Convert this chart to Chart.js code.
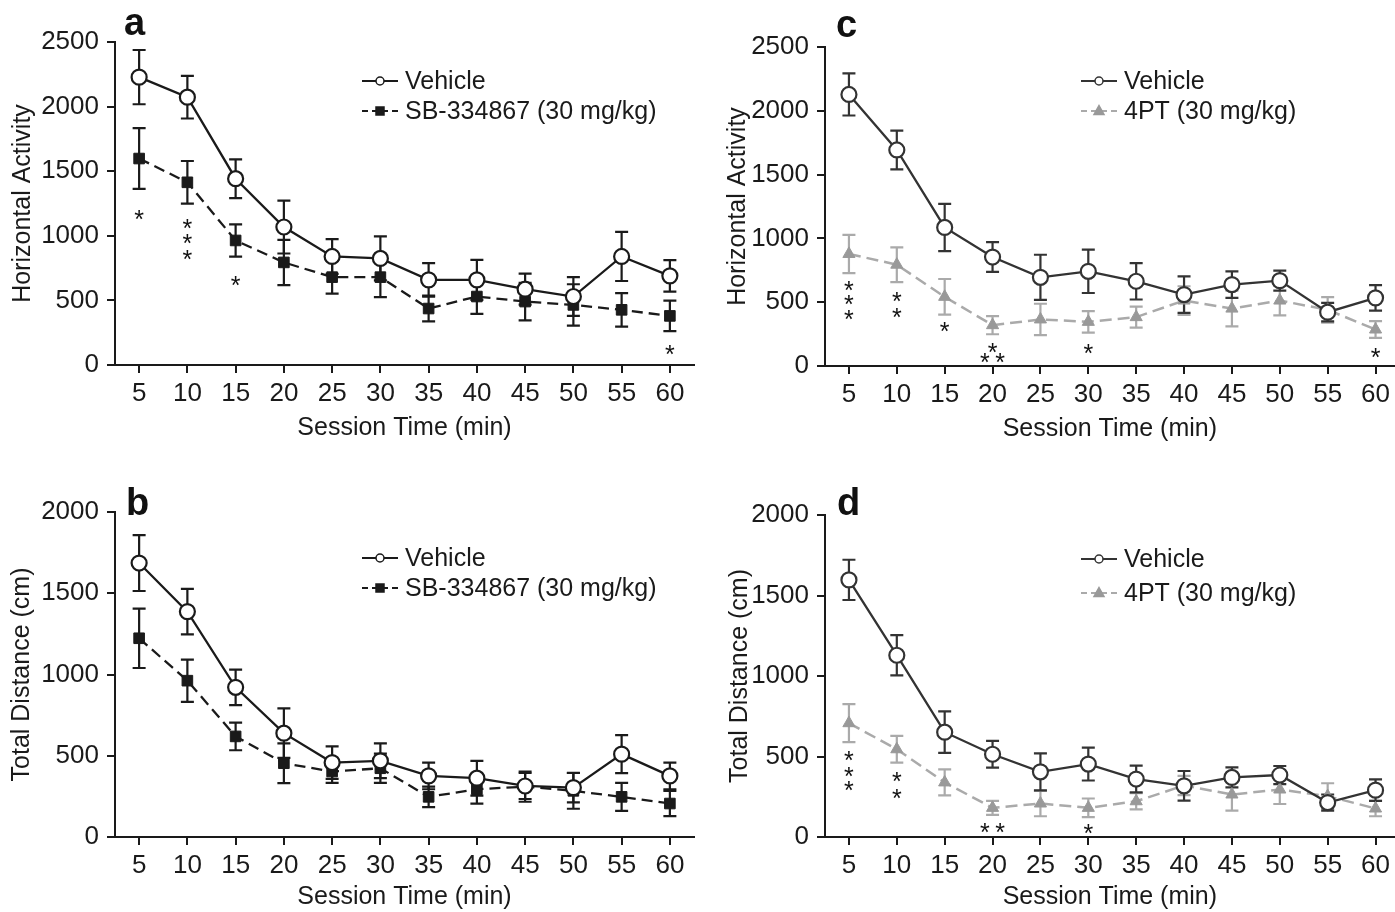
<!DOCTYPE html>
<html>
<head>
<meta charset="utf-8">
<script src="https://cdn.jsdelivr.net/npm/chart.js@4.4.1/dist/chart.umd.min.js"></script>
<style>
  body { margin: 0; background: #fff; width: 1395px; height: 912px; overflow: hidden; position: relative; }
  .panel { position: absolute; }
</style>
</head>
<body>
<div class="panel" style="left:0;top:0"><canvas id="panelA" width="697" height="456"></canvas></div>
<div class="panel" style="left:697px;top:0"><canvas id="panelC" width="698" height="456"></canvas></div>
<div class="panel" style="left:0;top:456px"><canvas id="panelB" width="697" height="456"></canvas></div>
<div class="panel" style="left:697px;top:456px"><canvas id="panelD" width="698" height="456"></canvas></div>
<script>
// Session time bins (min)
const minutes = [5, 10, 15, 20, 25, 30, 35, 40, 45, 50, 55, 60];

// a: horizontal activity, SB-334867
const vehA    = [2228, 2073, 1442, 1068, 840, 825, 659, 659, 587, 530, 840, 690];
const vehAErr = [210, 165, 150, 205, 135, 170, 130, 155, 120, 150, 190, 122];
const sbA     = [1598, 1414, 964, 794, 680, 680, 437, 530, 491, 465, 427, 380];
const sbAErr  = [235, 165, 125, 175, 128, 155, 100, 135, 145, 160, 130, 118];
const sigA    = [[5, 1163], [10, 1091], [10, 975], [10, 853], [15, 654], [60, 116]];

// b: total distance, SB-334867
const vehB    = [1686, 1387, 921, 639, 458, 469, 376, 362, 314, 304, 510, 376];
const vehBErr = [172, 140, 109, 152, 100, 107, 82, 107, 80, 91, 117, 82];
const sbB     = [1223, 962, 619, 454, 403, 423, 247, 294, 310, 284, 247, 206];
const sbBErr  = [183, 130, 85, 122, 70, 90, 63, 88, 93, 110, 86, 78];
const sigB    = [];

// c: horizontal activity, 4PT
const vehC    = [2128, 1693, 1086, 854, 695, 742, 664, 560, 638, 669, 422, 534];
const vehCErr = [165, 152, 185, 117, 177, 170, 143, 143, 104, 78, 73, 100];
const ptC     = [878, 794, 542, 320, 365, 346, 383, 513, 450, 513, 440, 286];
const ptCErr  = [150, 136, 140, 71, 123, 84, 83, 112, 140, 117, 100, 66];
const sigC    = [[5, 625], [5, 521], [5, 398], [10, 539], [10, 417], [15, 305],
                 [20, 143], [19.2, 60], [20.8, 60], [30, 130], [60, 104]];

// d: total distance, 4PT
const vehD    = [1597, 1129, 651, 514, 405, 453, 360, 318, 370, 385, 214, 291];
const vehDErr = [125, 125, 129, 83, 115, 102, 83, 92, 62, 56, 50, 67];
const ptD     = [707, 545, 339, 181, 208, 181, 222, 320, 264, 295, 254, 177];
const ptDErr  = [118, 83, 81, 44, 79, 58, 50, 60, 100, 90, 80, 48];
const sigD    = [[5, 503], [5, 405], [5, 316], [10, 374], [10, 270],
                 [19.2, 58], [20.8, 58], [30, 52]];

const FONT = "'Liberation Sans', Arial, Helvetica, sans-serif";
Chart.defaults.font.family = FONT;
Chart.defaults.color = '#1a1a1a';

function toPoints(vals) {
    return vals.map((v, i) => ({ x: minutes[i], y: v }));
}

// vertical error bars with caps, under the lines
const errorBars = {
    id: 'errorBars',
    beforeDatasetsDraw(chart) {
        const ctx = chart.ctx;
        const xs = chart.scales.x, ys = chart.scales.y;
        for (let i = chart.data.datasets.length - 1; i >= 0; i--) {
            const ds = chart.data.datasets[i];
            if (!ds.errors) continue;
            ctx.save();
            ctx.strokeStyle = ds.errorColor;
            ctx.lineWidth = 2.2;
            ds.data.forEach((p, j) => {
                const px = xs.getPixelForValue(p.x);
                const top = ys.getPixelForValue(p.y + ds.errors[j]);
                const bot = ys.getPixelForValue(p.y - ds.errors[j]);
                ctx.beginPath();
                ctx.moveTo(px, top); ctx.lineTo(px, bot);
                ctx.moveTo(px - 6.5, top); ctx.lineTo(px + 6.5, top);
                ctx.moveTo(px - 6.5, bot); ctx.lineTo(px + 6.5, bot);
                ctx.stroke();
            });
            ctx.restore();
        }
    }
};

// significance stars
const asterisks = {
    id: 'asterisks',
    afterDatasetsDraw(chart, args, opts) {
        const ctx = chart.ctx;
        const xs = chart.scales.x, ys = chart.scales.y;
        ctx.save();
        ctx.font = '25px ' + FONT;
        ctx.fillStyle = '#111';
        ctx.textAlign = 'center';
        ctx.textBaseline = 'alphabetic';
        const m = ctx.measureText('*');
        const off = (m.actualBoundingBoxAscent - m.actualBoundingBoxDescent) / 2;
        (opts.points || []).forEach(p => {
            ctx.fillText('*', xs.getPixelForValue(p[0]), ys.getPixelForValue(p[1]) + off);
        });
        ctx.restore();
    }
};

function drawMarker(ctx, style, x, y, r) {
    if (style === 'circle') {
        ctx.arc(x, y, r, 0, Math.PI * 2);
    } else if (style === 'rect') {
        ctx.rect(x - r, y - r, 2 * r, 2 * r);
    } else {
        ctx.moveTo(x, y - r * 1.1);
        ctx.lineTo(x + r, y + r * 0.7);
        ctx.lineTo(x - r, y + r * 0.7);
        ctx.closePath();
    }
}

// legend drawn inside the plot + panel letter
const innerLegend = {
    id: 'innerLegend',
    afterDraw(chart, args, opts) {
        const ctx = chart.ctx;
        ctx.save();
        chart.data.datasets.forEach((ds, i) => {
            const y = opts.rows[i];
            const x0 = opts.x;
            ctx.strokeStyle = ds.borderColor;
            ctx.lineWidth = 2;
            ctx.setLineDash(ds.legendDash || []);
            ctx.beginPath();
            ctx.moveTo(x0, y); ctx.lineTo(x0 + 36, y);
            ctx.stroke();
            ctx.setLineDash([]);
            ctx.fillStyle = ds.pointBackgroundColor;
            ctx.strokeStyle = ds.pointBorderColor;
            ctx.lineWidth = 1.5;
            ctx.beginPath();
            drawMarker(ctx, ds.pointStyle, x0 + 18, y, ds.legendRadius);
            ctx.fill();
            ctx.stroke();
            ctx.fillStyle = '#1a1a1a';
            ctx.font = '25px ' + FONT;
            ctx.textAlign = 'left';
            ctx.textBaseline = 'middle';
            ctx.fillText(ds.label, x0 + 43, y + 1);
        });
        ctx.font = 'bold 38px ' + FONT;
        ctx.fillStyle = '#111';
        ctx.textAlign = 'left';
        ctx.textBaseline = 'alphabetic';
        ctx.fillText(opts.letter, opts.letterX, opts.letterY);
        ctx.restore();
    }
};

function vehicleSet(vals, errs, color) {
    return {
        label: 'Vehicle',
        data: toPoints(vals),
        errors: errs,
        errorColor: color,
        borderColor: color,
        borderWidth: 2.3,
        pointStyle: 'circle',
        pointRadius: 7.5,
        pointBorderWidth: 2.2,
        pointBackgroundColor: '#fff',
        pointBorderColor: color,
        legendRadius: 4,
        tension: 0
    };
}

function sbSet(vals, errs) {
    return {
        label: 'SB-334867 (30 mg/kg)',
        data: toPoints(vals),
        errors: errs,
        errorColor: '#1a1a1a',
        borderColor: '#1a1a1a',
        borderWidth: 2.3,
        borderDash: [11, 6],
        legendDash: [6, 4],
        pointStyle: 'rect',
        pointRadius: 7.5,
        pointBorderWidth: 1,
        pointBackgroundColor: '#1a1a1a',
        pointBorderColor: '#1a1a1a',
        legendRadius: 4,
        tension: 0
    };
}

function ptSet(vals, errs) {
    return {
        label: '4PT (30 mg/kg)',
        data: toPoints(vals),
        errors: errs,
        errorColor: '#aaaaaa',
        borderColor: '#aaaaaa',
        borderWidth: 2.5,
        borderDash: [12, 6],
        legendDash: [6, 4],
        pointStyle: 'triangle',
        pointRadius: 7,
        pointBorderWidth: 1,
        pointBackgroundColor: '#999999',
        pointBorderColor: '#999999',
        legendRadius: 5,
        tension: 0
    };
}

function makePanel(id, p) {
    new Chart(document.getElementById(id), {
        type: 'line',
        data: { datasets: p.datasets },
        options: {
            responsive: false,
            devicePixelRatio: 1,
            animation: false,
            layout: {
                autoPadding: false,
                padding: { top: p.top, right: p.right, left: 0, bottom: 0 }
            },
            plugins: {
                legend: { display: false },
                tooltip: { enabled: false },
                asterisks: { points: p.stars },
                innerLegend: {
                    x: p.legendX, rows: p.legendRows,
                    letter: p.letter, letterX: p.letterX, letterY: p.letterY
                }
            },
            scales: {
                x: {
                    type: 'linear',
                    min: 2.5,
                    max: p.xMax,
                    afterBuildTicks: s => { s.ticks = minutes.map(v => ({ value: v })); },
                    afterFit: s => { s.height = p.xAxisHeight; },
                    grid: { display: true, drawOnChartArea: false, drawTicks: true, tickLength: 8, color: '#1a1a1a', lineWidth: 2 },
                    border: { display: true, color: '#1a1a1a', width: 2 },
                    ticks: { font: { size: 26 }, color: '#1a1a1a', padding: 5, maxRotation: 0, autoSkip: false,
                             callback: v => String(v) },
                    title: { display: true, text: 'Session Time (min)', font: { size: 25 }, color: '#1a1a1a', padding: { top: 2, bottom: p.xTitlePad } }
                },
                y: {
                    min: 0,
                    max: p.yMax,
                    afterFit: s => { s.width = p.yAxisWidth; },
                    grid: { display: true, drawOnChartArea: false, drawTicks: true, tickLength: 8, color: '#1a1a1a', lineWidth: 2 },
                    border: { display: true, color: '#1a1a1a', width: 2 },
                    ticks: { stepSize: 500, font: { size: 26 }, color: '#1a1a1a', padding: 8,
                             callback: v => String(v) },
                    title: { display: true, text: p.yTitle, font: { size: 25 }, color: '#1a1a1a', padding: { top: p.yTitlePad, bottom: 0 } }
                }
            }
        },
        plugins: [errorBars, asterisks, innerLegend]
    });
}

makePanel('panelA', {
    datasets: [vehicleSet(vehA, vehAErr, '#1a1a1a'), sbSet(sbA, sbAErr)],
    stars: sigA, yMax: 2500, yTitle: 'Horizontal Activity',
    top: 42, right: 3, xMax: 62.5, xAxisHeight: 91, yAxisWidth: 115,
    xTitlePad: 13, yTitlePad: 8,
    legendX: 362, legendRows: [81, 111],
    letter: 'a', letterX: 124, letterY: 35
});

makePanel('panelB', {
    datasets: [vehicleSet(vehB, vehBErr, '#1a1a1a'), sbSet(sbB, sbBErr)],
    stars: sigB, yMax: 2000, yTitle: 'Total Distance (cm)',
    top: 56, right: 3, xMax: 62.5, xAxisHeight: 75, yAxisWidth: 115,
    xTitlePad: 0, yTitlePad: 7,
    legendX: 362, legendRows: [102, 132],
    letter: 'b', letterX: 126, letterY: 59
});

makePanel('panelC', {
    datasets: [vehicleSet(vehC, vehCErr, '#333333'), ptSet(ptC, ptCErr)],
    stars: sigC, yMax: 2500, yTitle: 'Horizontal Activity',
    top: 47, right: 0, xMax: 62.0, xAxisHeight: 90, yAxisWidth: 128,
    xTitlePad: 12, yTitlePad: 26,
    legendX: 384, legendRows: [81, 111],
    letter: 'c', letterX: 139, letterY: 37
});

makePanel('panelD', {
    datasets: [vehicleSet(vehD, vehDErr, '#333333'), ptSet(ptD, ptDErr)],
    stars: sigD, yMax: 2000, yTitle: 'Total Distance (cm)',
    top: 59, right: 0, xMax: 62.0, xAxisHeight: 75, yAxisWidth: 128,
    xTitlePad: 0, yTitlePad: 28,
    legendX: 384, legendRows: [103, 137],
    letter: 'd', letterX: 140, letterY: 59
});
</script>
</body>
</html>
